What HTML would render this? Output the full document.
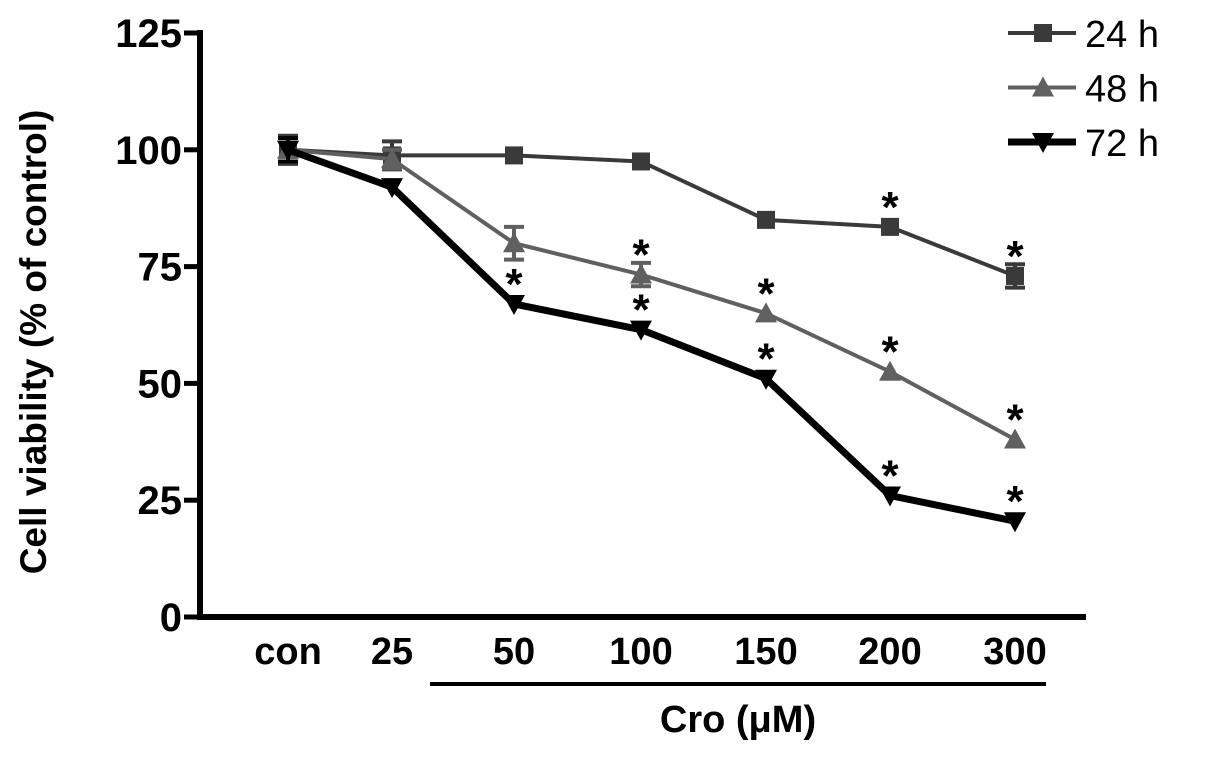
<!DOCTYPE html>
<html><head><meta charset="utf-8"><style>
html,body{margin:0;padding:0;background:#fff;}
svg{display:block;font-family:"Liberation Sans",Arial,sans-serif;font-weight:bold;}
</style></head><body>
<svg id="chart" width="1205" height="761" viewBox="0 0 1205 761" xmlns="http://www.w3.org/2000/svg">
<g id="axes"></g><g id="series"></g><g id="legend"></g>
</svg>
<script>
const categories = ["con","25","50","100","150","200","300"];
const yTicks = [0,25,50,75,100,125];
const v24 = [100,98.8,98.8,97.5,85,83.5,73];
const v48 = [100,98,80,73.3,65,52.5,38];
const v72 = [100,92,67,61.5,51,26,20.5];
const e24 = [3,3,0,0,0,0,2.5];
const e48 = [0,2,3.5,2.5,0,0,0];
const e72 = [2.5,0,0,0,0,0,0];
const sig24 = [0,0,0,0,0,1,1];
const sig48 = [0,0,0,1,1,1,1];
const sig72 = [0,0,1,1,1,1,1];
const seriesNames = ["24 h","48 h","72 h"];

const NS="http://www.w3.org/2000/svg";
const catX=[288,392,514,641,766,890,1015];
function x(i){return catX[i];}
function y(v){return 617-v*4.672;}
function mk(tag,attrs,parent){const e=document.createElementNS(NS,tag);for(const k in attrs)e.setAttribute(k,attrs[k]);parent.appendChild(e);return e;}
const axes=document.getElementById('axes'),sg=document.getElementById('series'),lg=document.getElementById('legend');

let a=mk('line',{x1:200,y1:30,x2:200,y2:620,stroke:'#000','stroke-width':6},axes);

a=mk('line',{x1:197,y1:617,x2:1086,y2:617,stroke:'#000','stroke-width':6},axes);

yTicks.forEach(t=>{
  const l=mk('line',{x1:184,y1:y(t),x2:200,y2:y(t),stroke:'#000','stroke-width':5},axes);
  
  const tx=mk('text',{x:182,y:y(t)+14,'text-anchor':'end','font-size':40},axes);tx.textContent=t;
  
});
categories.forEach((c,i)=>{
  const tx=mk('text',{x:x(i),y:664,'text-anchor':'middle','font-size':38},axes);tx.textContent=c;
  
});
a=mk('line',{x1:430,y1:684,x2:1046,y2:684,stroke:'#000','stroke-width':4},axes);

a=mk('text',{x:738,y:732,'text-anchor':'middle','font-size':38},axes);a.textContent="Cro (μM)";

a=mk('text',{x:0,y:0,'text-anchor':'middle','font-size':37,transform:'translate(46,342) rotate(-90)'},axes);a.textContent="Cell viability (% of control)";


function marker(type,cx,cy,color,parent,s){
  s=s||1;
  if(type==='sq') return mk('rect',{x:cx-9*s,y:cy-9*s,width:18*s,height:18*s,fill:color},parent);
  if(type==='up') return mk('polygon',{points:`${cx},${cy-11*s} ${cx-11*s},${cy+9*s} ${cx+11*s},${cy+9*s}`,fill:color},parent);
  return mk('polygon',{points:`${cx},${cy+11*s} ${cx-11*s},${cy-9*s} ${cx+11*s},${cy-9*s}`,fill:color},parent);
}
const defs=[
 {vals:v24,err:e24,sig:sig24,color:'#3a3a3a',w:4,m:'sq',name:'series-24h'},
 {vals:v48,err:e48,sig:sig48,color:'#606060',w:4,m:'up',name:'series-48h'},
 {vals:v72,err:e72,sig:sig72,color:'#000',w:7,m:'down',name:'series-72h'}];
defs.forEach((d,si)=>{
  const g=mk('g',{},sg);
  const p=mk('polyline',{points:d.vals.map((v,i)=>x(i)+','+y(v)).join(' '),fill:'none',stroke:d.color,'stroke-width':d.w},g);
  
  d.vals.forEach((v,i)=>{
    if(d.err[i]>0){
      const e=mk('path',{d:`M${x(i)},${y(v+d.err[i])}V${y(v-d.err[i])}M${x(i)-10},${y(v+d.err[i])}H${x(i)+10}M${x(i)-10},${y(v-d.err[i])}H${x(i)+10}`,stroke:d.color,'stroke-width':4,fill:'none'},g);
      
    }
    const m=marker(d.m,x(i),y(v),d.color,g);
    
    if(d.sig[i]){
      const st=mk('text',{x:x(i),y:y(v)-5,'text-anchor':'middle','font-size':44,fill:'#000'},g);st.textContent='*';
      
    }
  });
  const ly=33+si*54.5;
  const le=mk('g',{},lg);
  mk('line',{x1:1008,y1:ly,x2:1076,y2:ly,stroke:d.color,'stroke-width':d.w},le);
  marker(d.m,1043,ly,d.color,le);
  const t=mk('text',{x:1085,y:ly+14,'font-size':38,'font-weight':'normal',fill:'#000'},le);t.textContent=seriesNames[si];
});
</script>
</body></html>
